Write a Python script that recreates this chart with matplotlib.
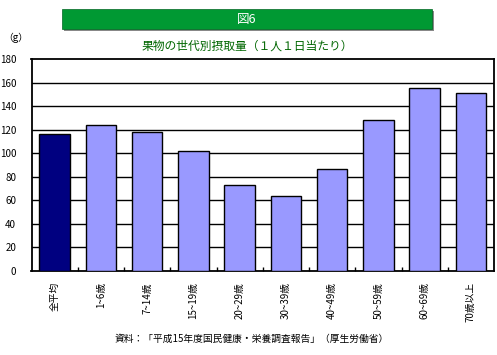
import matplotlib
matplotlib.use("Agg")
import matplotlib.pyplot as plt
from matplotlib.patches import Rectangle

plt.rcParams['font.family'] = ['Noto Sans CJK JP', 'DejaVu Sans']

categories = ["全平均", "1~6歳", "7~14歳", "15~19歳", "20~29歳", "30~39歳",
              "40~49歳", "50~59歳", "60~69歳", "70歳以上"]
values = [116, 124, 118, 102, 73, 64, 87, 128, 155, 151]
colors = ["#000080"] + ["#9999FF"] * 9
yticks = [0, 20, 40, 60, 80, 100, 120, 140, 160, 180]

W, H = 497, 355
fig = plt.figure(figsize=(W / 100, H / 100), dpi=100)
fig.patch.set_facecolor("white")

ax = fig.add_axes([31.5 / W, (H - 271) / H, (494 - 31.5) / W, (271 - 59) / H])
x = list(range(len(categories)))
ax.bar(x, values, width=0.66, color=colors, edgecolor="black", linewidth=1.0, zorder=3)
ax.set_xlim(-0.5, len(categories) - 0.5)
ax.set_ylim(0, 180)
ax.set_yticks(yticks)
ax.set_yticklabels([str(v) for v in yticks], fontsize=7)
for v in yticks[1:-1]:
    ax.axhline(v, color="black", linewidth=1.0, zorder=1)
ax.tick_params(axis="y", length=0, pad=11)
ax.set_xticks([i + 0.5 for i in x[:-1]], minor=True)
ax.set_xticks(x)
ax.set_xticklabels(categories, rotation=90, fontsize=7, va="top", ha="center")
ax.tick_params(axis="x", which="major", length=0, pad=8)
ax.tick_params(axis="x", which="minor", length=3, direction="in", width=1)
for s in ax.spines.values():
    s.set_linewidth(1.3)
    s.set_color("black")

# green banner with shadow
fig.patches.append(Rectangle((64 / W, (H - 31) / H), 370 / W, 20 / H,
                             transform=fig.transFigure, facecolor="#888888",
                             edgecolor="none", zorder=0))
fig.patches.append(Rectangle((62 / W, (H - 29) / H), 370 / W, 20 / H,
                             transform=fig.transFigure, facecolor="#009933",
                             edgecolor="#006622", linewidth=0.5, zorder=1))
fig.text(247 / W, (H - 19) / H, "図6", color="white", fontsize=9,
         ha="center", va="center")

fig.text(247 / W, (H - 46) / H, "果物の世代別摂取量（１人１日当たり）", color="#006600",
         fontsize=8.5, ha="center", va="center")
fig.text(16 / W, (H - 38) / H, "（g）", fontsize=7, ha="center", va="center")
fig.text(252 / W, (H - 339) / H, "資料：「平成15年度国民健康・栄養調査報告」（厚生労働省）",
         fontsize=7, ha="center", va="center")

fig.savefig("out.png", dpi=100)
